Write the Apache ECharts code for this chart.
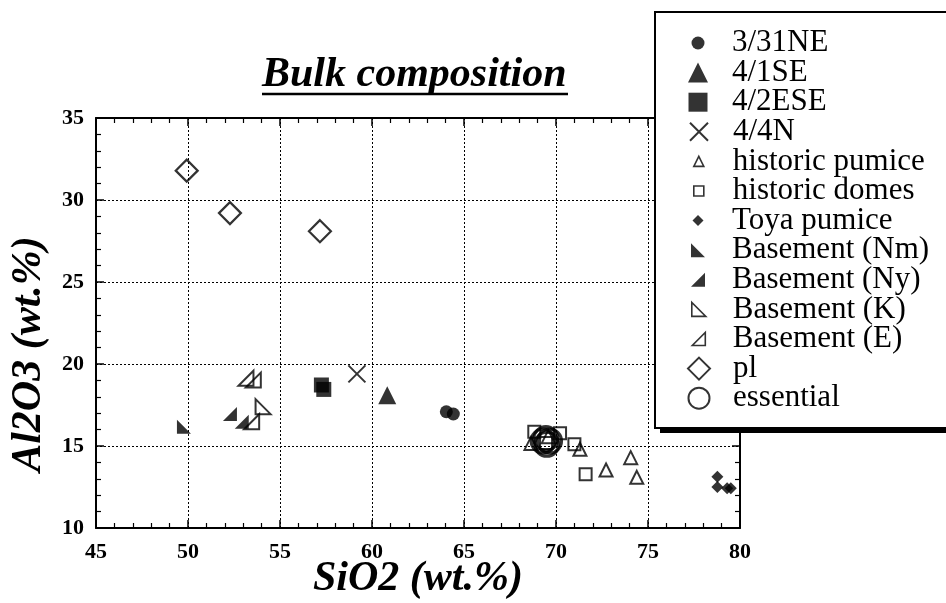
<!DOCTYPE html>
<html><head><meta charset="utf-8">
<script src="https://cdn.jsdelivr.net/npm/echarts@6/dist/echarts.min.js"></script>
<style>html,body{margin:0;padding:0;background:#fff}#c{width:946px;height:603px}</style>
</head><body><div id="c"></div>
<script>
// ---- data (SiO2, Al2O3 wt.%) ----
const xTickValues = [45, 50, 55, 60, 65, 70, 75, 80];
const yTickValues = [10, 15, 20, 25, 30, 35];
const s3_31NE = [[64.04, 17.09], [64.42, 16.95]];
const s4_1SE = [[60.83, 18.1]];
const s4_2ESE = [[57.25, 18.72], [57.38, 18.45]];
const s4_4N = [[59.18, 19.4]];
const historicPumice = [[68.64, 15.16], [69.58, 15.57], [71.3, 14.8], [72.72, 13.54], [74.06, 14.29], [74.39, 13.09]];
const historicDomes = [[68.82, 15.87], [69.46, 15.18], [70.22, 15.77], [71.0, 15.1], [71.61, 13.27]];
const toyaPumice = [[78.77, 13.13], [78.77, 12.5], [79.3, 12.42], [79.5, 12.42]];
const basementNm = [[49.78, 16.18]];
const basementNy = [[52.28, 16.95], [52.92, 16.48]];
const basementK = [[54.08, 17.4]];
const basementE = [[53.15, 19.13], [53.55, 19.02], [53.46, 16.48]];
const plData = [[49.93, 31.79], [52.28, 29.2], [57.17, 28.1]];
const essential = [[69.3, 15.3], [69.5, 15.1], [69.65, 15.3], [69.45, 15.45]];

const FONT = 'Liberation Serif, Times New Roman, serif';
const TRI_BL = 'path://M0,0 L0,10 L10,10 Z';
const TRI_BR = 'path://M10,0 L10,10 L0,10 Z';
const CROSS = 'path://M0,0 L10,10 M10,0 L0,10';
const filled = { color: '#000', borderColor: '#000', borderWidth: 0 };
const open = w => ({ color: 'rgba(0,0,0,0)', borderColor: '#000', borderWidth: w });

// name, data, symbol, plot size, style, legend icon size, legend style
const defs = [
  ['3/31NE', s3_31NE, 'circle', 13, filled, 13, filled],
  ['4/1SE', s4_1SE, 'triangle', 18, filled, 20, filled],
  ['4/2ESE', s4_2ESE, 'rect', 15, filled, 19, filled],
  ['4/4N', s4_4N, CROSS, 17, open(2), 18, open(2)],
  ['historic pumice', historicPumice, 'triangle', 13, open(2), 10, open(1.6)],
  ['historic domes', historicDomes, 'rect', 12, open(2), 10, open(1.6)],
  ['Toya pumice', toyaPumice, 'diamond', 12, filled, 11, filled],
  ['Basement (Nm)', basementNm, TRI_BL, 14, filled, 14, filled],
  ['Basement (Ny)', basementNy, TRI_BR, 14, filled, 14, filled],
  ['Basement (K)', basementK, TRI_BL, 15, open(2), 14, open(1.6)],
  ['Basement (E)', basementE, TRI_BR, 15, open(2), 13, open(1.6)],
  ['pl', plData, 'diamond', 22, open(2.2), 22, open(2)],
  ['essential', essential, 'circle', 24, open(3), 21, open(2)]
];

const series = defs.map(d => ({
  name: d[0], type: 'scatter', data: d[1], symbol: d[2], symbolSize: d[3],
  itemStyle: d[4], emphasis: { disabled: true }, z: 3
}));

const legends = defs.map((d, i) => {
  const w = d[5];
  const row = 43 + i * 29.6;
  return {
    show: true, orient: 'vertical', left: 698 - w / 2, top: row - 15.5, padding: 0,
    itemWidth: w, itemHeight: w, selectedMode: false, z: 30,
    data: [{ name: d[0], icon: d[2], itemStyle: d[6] }],
    textStyle: { fontFamily: FONT, fontSize: 31, color: '#000', padding: [0, 0, 0, 29 - w / 2] }
  };
});

const axisCommon = {
  type: 'value',
  axisLine: { show: true, onZero: false, lineStyle: { color: '#000', width: 2 } },
  axisTick: { show: true, inside: true, length: 8, lineStyle: { color: '#000', width: 1.5 } },
  minorTick: { show: true, splitNumber: 5, length: 5, lineStyle: { color: '#000', width: 1.2 } }
};
const labelStyle = { color: '#000', fontFamily: FONT, fontWeight: 'bold', fontSize: 22 };
const nameStyle = { color: '#000', fontFamily: FONT, fontWeight: 'bold', fontStyle: 'italic', fontSize: 42 };

const option = {
  animation: false,
  backgroundColor: '#fff',
  title: {
    text: 'Bulk composition', left: 262, top: 54, padding: 0,
    textStyle: { fontFamily: FONT, fontWeight: 'bold', fontStyle: 'italic', fontSize: 42, color: '#000' }
  },
  grid: { left: 96, right: 206, top: 118, bottom: 75, containLabel: false, outerBoundsMode: 'none' },
  xAxis: [
    Object.assign({}, axisCommon, {
      min: xTickValues[0], max: xTickValues[xTickValues.length - 1], interval: 5, position: 'bottom',
      axisLabel: Object.assign({ margin: 13 }, labelStyle),
      splitLine: { show: true, lineStyle: { color: '#000', width: 1, type: [2, 2] } },
      name: 'SiO2 (wt.%)', nameLocation: 'middle', nameGap: 30, nameMoveOverlap: false,
      nameTextStyle: nameStyle
    }),
    Object.assign({}, axisCommon, {
      min: xTickValues[0], max: xTickValues[xTickValues.length - 1], interval: 5, position: 'top',
      axisLabel: { show: false }, splitLine: { show: false }
    })
  ],
  yAxis: [
    Object.assign({}, axisCommon, {
      min: yTickValues[0], max: yTickValues[yTickValues.length - 1], interval: 5, position: 'left',
      axisLabel: Object.assign({ margin: 12 }, labelStyle),
      splitLine: { show: true, lineStyle: { color: '#000', width: 1, type: [2, 2] } },
      name: 'Al2O3 (wt.%)', nameLocation: 'middle', nameGap: 46, nameMoveOverlap: false,
      nameTextStyle: Object.assign({ padding: [0, 62, 0, 0] }, nameStyle)
    }),
    Object.assign({}, axisCommon, {
      min: yTickValues[0], max: yTickValues[yTickValues.length - 1], interval: 5, position: 'right',
      axisLabel: { show: false }, splitLine: { show: false }
    })
  ],
  legend: legends,
  graphic: [
    { type: 'line', z: 20, shape: { x1: 262, y1: 94, x2: 568, y2: 94 }, style: { stroke: '#000', lineWidth: 2.5 } },
    { type: 'rect', z: 20, shape: { x: 660, y: 17, width: 320, height: 416 }, style: { fill: '#000' } },
    { type: 'rect', z: 21, shape: { x: 655, y: 12, width: 320, height: 416 }, style: { fill: '#fff', stroke: '#000', lineWidth: 2 } }
  ],
  series: series
};

const chart = echarts.init(document.getElementById('c'), null, { renderer: 'canvas' });
chart.setOption(option);
</script>
</body></html>
